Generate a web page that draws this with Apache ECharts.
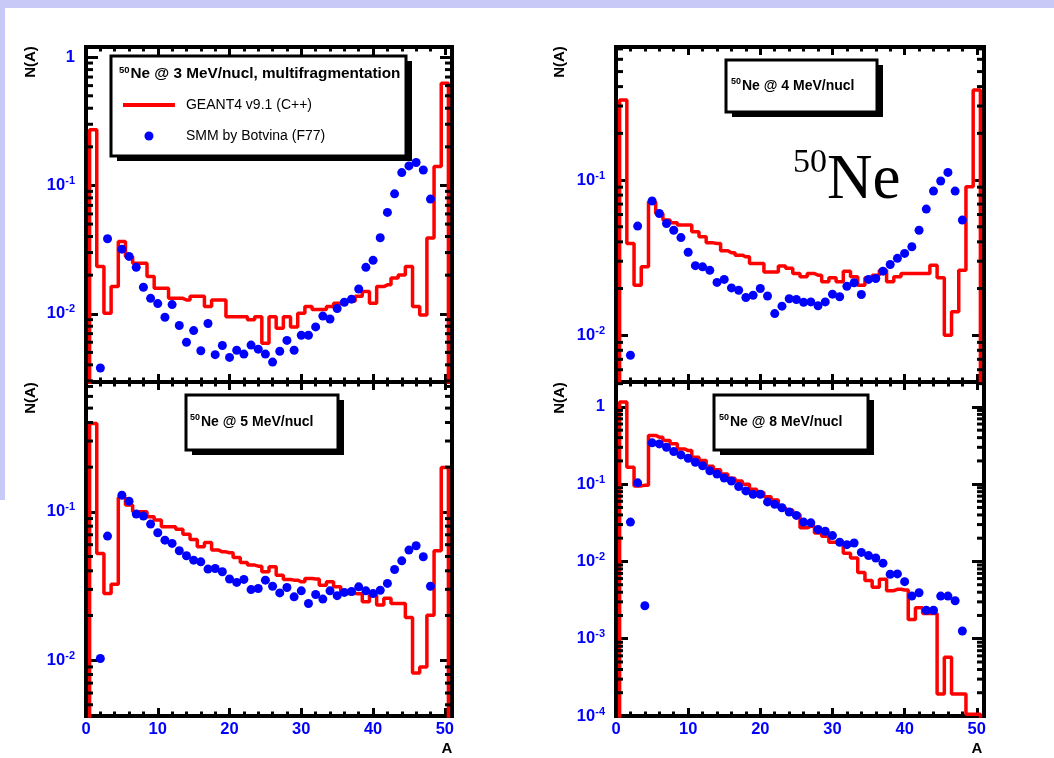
<!DOCTYPE html>
<html>
<head>
<meta charset="utf-8">
<title>50Ne fragment mass distributions</title>
<script src="https://cdn.jsdelivr.net/npm/echarts@6.0.0/dist/echarts.min.js"></script>
<style>
html,body{margin:0;padding:0;background:#ffffff;}
#chart{width:1054px;height:758px;}
</style>
</head>
<body>
<div id="chart"></div>
<script>
// ---------------- data ----------------
const massNumber = [0,1,2,3,4,5,6,7,8,9,10,11,12,13,14,15,16,17,18,19,20,21,22,23,24,25,26,27,28,29,30,31,32,33,34,35,36,37,38,39,40,41,42,43,44,45,46,47,48,49,50];

// GEANT4 v9.1 (C++) histograms, N(A) per unit bin (0 = empty bin)
const geant_3MeV = [0, 0.272, 0.0234, 0.0101, 0.0163, 0.0366, 0.0280, 0.0248, 0.0248, 0.0195, 0.0158,
  0.0158, 0.0132, 0.0132, 0.0128, 0.0137, 0.0137, 0.0114, 0.0128, 0.0128, 0.0095,
  0.0095, 0.0095, 0.0090, 0.0095, 0.0059, 0.0095, 0.0077, 0.0095, 0.0079, 0.0101,
  0.0114, 0.0108, 0.0108, 0.0114, 0.0121, 0.0125, 0.0125, 0.0137, 0.0149, 0.0121,
  0.0163, 0.0168, 0.0190, 0.0201, 0.0234, 0.0114, 0.0098, 0.0389, 0.1406, 0.626];
const geant_4MeV = [0, 0.328, 0.039, 0.021, 0.0276, 0.0725, 0.0609, 0.0552, 0.0531, 0.0513, 0.0513,
  0.0465, 0.0431, 0.0394, 0.039, 0.035, 0.034, 0.0328, 0.032, 0.029, 0.029,
  0.0256, 0.0256, 0.0279, 0.027, 0.025, 0.0238, 0.025, 0.0244, 0.0221, 0.0235,
  0.0221, 0.0259, 0.0238, 0.021, 0.0235, 0.0244, 0.0262, 0.0221, 0.0238, 0.025,
  0.025, 0.025, 0.025, 0.0283, 0.0235, 0.01, 0.0142, 0.0262, 0.0906, 0.381];
const geant_5MeV = [0, 0.394, 0.0523, 0.0281, 0.0325, 0.125, 0.111, 0.1, 0.1, 0.0925, 0.0879,
  0.0792, 0.0792, 0.0764, 0.0707, 0.0651, 0.0581, 0.0621, 0.0552, 0.0537, 0.0529,
  0.0492, 0.0455, 0.0437, 0.043, 0.0394, 0.0426, 0.0374, 0.035, 0.0346, 0.0337,
  0.0355, 0.0352, 0.032, 0.0337, 0.0312, 0.0281, 0.0281, 0.028, 0.0247, 0.0274,
  0.0235, 0.0261, 0.0241, 0.0241, 0.0194, 0.0082, 0.009, 0.0201, 0.0546, 0.199];
const geant_8MeV = [0, 1.16, 0.165, 0.095, 0.097, 0.427, 0.406, 0.367, 0.333, 0.286, 0.272,
  0.223, 0.202, 0.170, 0.154, 0.135, 0.119, 0.110, 0.100, 0.0861, 0.0779,
  0.069, 0.0625, 0.0496, 0.0463, 0.0406, 0.0272, 0.0286, 0.0234, 0.0212, 0.0177,
  0.0177, 0.0128, 0.0111, 0.00719, 0.00565, 0.00462, 0.00589, 0.00419, 0.00436, 0.00427,
  0.00177, 0.00251, 0.00212, 0.00212, 0.000192, 0.000577, 0.000192, 0.000192, 0.000105, 0.000105];

// SMM by Botvina (F77) points (null = no point)
const smm_3MeV = [null, null, 0.00378, 0.0384, null, 0.0319, 0.028, 0.023, 0.0161, 0.0132, 0.012,
  0.0094, 0.0118, 0.0081, 0.006, 0.0074, 0.00515, 0.0084, 0.0048, 0.00566, 0.00457,
  0.0052, 0.00485, 0.0057, 0.0053, 0.00485, 0.0042, 0.0051, 0.0062, 0.0052, 0.0068,
  0.0068, 0.0079, 0.0096, 0.0091, 0.011, 0.0123, 0.013, 0.0156, 0.023, 0.0261,
  0.0391, 0.0617, 0.0861, 0.126, 0.142, 0.151, 0.132, 0.0783, null, null];
const smm_4MeV = [null, null, 0.00743, 0.0505, null, 0.0733, 0.0609, 0.0525, 0.0475, 0.0426, 0.0343,
  0.0281, 0.0276, 0.0262, 0.0219, 0.0229, 0.0202, 0.0195, 0.0175, 0.0181, 0.0200,
  0.0179, 0.0138, 0.0154, 0.0172, 0.0170, 0.0163, 0.0164, 0.0155, 0.0164, 0.0184,
  0.0177, 0.0207, 0.0218, 0.0183, 0.0229, 0.0232, 0.0259, 0.0286, 0.0313, 0.0337,
  0.0372, 0.0475, 0.065, 0.0849, 0.0986, 0.112, 0.0849, 0.0552, null, null];
const smm_5MeV = [null, null, 0.01025, 0.0686, null, 0.1295, 0.118, 0.0965, 0.0935, 0.0826, 0.0722,
  0.0644, 0.0612, 0.0546, 0.0505, 0.0472, 0.046, 0.0411, 0.0415, 0.0394, 0.0352,
  0.0334, 0.035, 0.0299, 0.0304, 0.0346, 0.0315, 0.0284, 0.0309, 0.0267, 0.0293,
  0.0241, 0.0277, 0.0258, 0.0293, 0.0272, 0.0286, 0.029, 0.0312, 0.0293, 0.0281,
  0.0296, 0.0329, 0.0408, 0.0467, 0.0552, 0.059, 0.0498, 0.0315, null, null];
const smm_8MeV = [null, null, 0.0323, 0.104, 0.00267, 0.343, 0.332, 0.301, 0.264, 0.239, 0.216,
  0.192, 0.173, 0.149, 0.135, 0.12, 0.11, 0.0932, 0.0819, 0.0741, 0.0741,
  0.0589, 0.0548, 0.0496, 0.0436, 0.0394, 0.0323, 0.0316, 0.0259, 0.0246, 0.0216,
  0.0177, 0.0165, 0.0173, 0.0131, 0.0119, 0.0111, 0.0095, 0.00684, 0.0069, 0.00548,
  0.00356, 0.00394, 0.00234, 0.00234, 0.00356, 0.00356, 0.0031, 0.00126, null, null];

// tick labels
const xTickLabels = [0, 10, 20, 30, 40, 50];
const yDecades_3MeV = [0.01, 0.1, 1];
const yDecades_4MeV = [0.01, 0.1];
const yDecades_5MeV = [0.01, 0.1];
const yDecades_8MeV = [0.0001, 0.001, 0.01, 0.1, 1];

// texts
const seriesNames = ['GEANT4 v9.1 (C++)', 'SMM by Botvina (F77)'];
const panelTitles = ['Ne @ 3 MeV/nucl, multifragmentation', 'Ne @ 4 MeV/nucl', 'Ne @ 5 MeV/nucl', 'Ne @ 8 MeV/nucl'];

// ---------------- styling / layout ----------------
const FONT = '"Liberation Sans", Arial, Helvetica, sans-serif';
const SERIF = '"Liberation Serif", "Times New Roman", serif';
const LABEL_BLUE = '#0000ff';
const RED = '#ff0000';
const DOT_BLUE = '#0000ff';
const SLIDE = '#c9c9f7';
const EMPTY = 1e-8;

const panels = [
  {grid:{left:86, top:47, width:366, height:335}, yMin:0.00294, yMax:1.2, red:geant_3MeV, blue:smm_3MeV, decades:yDecades_3MeV, showX:false},
  {grid:{left:616, top:47, width:368, height:335}, yMin:0.005, yMax:0.72, red:geant_4MeV, blue:smm_4MeV, decades:yDecades_4MeV, showX:false},
  {grid:{left:86, top:382, width:366, height:334}, yMin:0.0042, yMax:0.75, red:geant_5MeV, blue:smm_5MeV, decades:yDecades_5MeV, showX:true},
  {grid:{left:616, top:382, width:368, height:334}, yMin:0.0001, yMax:2.1, red:geant_8MeV, blue:smm_8MeV, decades:yDecades_8MeV, showX:true}
];

function logLabel(v, decades) {
  const e = Math.log10(v);
  for (const d of decades) {
    const de = Math.round(Math.log10(d));
    if (Math.abs(e - de) < 1e-6) {
      return de === 0 ? '{b|1}' : '{b|10}{s|-' + Math.abs(de) + '}';
    }
  }
  return '';
}

function minorLogValues(min, max) {
  const out = [];
  for (let e = Math.floor(Math.log10(min)); e <= Math.ceil(Math.log10(max)); e++) {
    for (let k = 2; k <= 9; k++) {
      const v = k * Math.pow(10, e);
      if (v > min && v < max) out.push([0, v]);
    }
  }
  return out;
}

function minorTickItem(params, api) {
  const y = api.coord([0, api.value(1)])[1];
  const cs = params.coordSys;
  const st = {stroke:'#000', lineWidth:3};
  return {type:'group', children:[
    {type:'line', shape:{x1:cs.x, y1:y, x2:cs.x + 7, y2:y}, style:st},
    {type:'line', shape:{x1:cs.x + cs.width, y1:y, x2:cs.x + cs.width - 7, y2:y}, style:st}
  ]};
}

const grids = [], xAxes = [], yAxes = [], series = [];
panels.forEach((p, i) => {
  grids.push(Object.assign({}, p.grid, {show:true, borderColor:'#000', borderWidth:4, backgroundColor:'rgba(0,0,0,0)'}));
  const xBase = {gridIndex:i, type:'value', min:0, max:51, axisLine:{show:false, onZero:false}, splitLine:{show:false}};
  const majorTick = {inside:true, length:8, lineStyle:{color:'#000', width:3}};
  const minorTickX = {inside:true, length:4.5, lineStyle:{color:'#000', width:3}};
  const xi = xAxes.length;
  xAxes.push(Object.assign({}, xBase, {position:'bottom', interval:10, axisTick:majorTick,
    axisLabel:{show:p.showX, margin:5, color:LABEL_BLUE, fontSize:16.5, fontWeight:'bold', fontFamily:FONT,
      formatter: v => xTickLabels.indexOf(v) >= 0 ? String(v) : ''}}));
  xAxes.push(Object.assign({}, xBase, {position:'bottom', interval:2, axisTick:minorTickX, axisLabel:{show:false}}));
  xAxes.push(Object.assign({}, xBase, {position:'top', interval:10, axisTick:majorTick, axisLabel:{show:false}}));
  xAxes.push(Object.assign({}, xBase, {position:'top', interval:2, axisTick:minorTickX, axisLabel:{show:false}}));

  const yi = yAxes.length;
  const yBase = {gridIndex:i, type:'log', logBase:10, min:p.yMin, max:p.yMax,
    axisLine:{show:false, onZero:false}, splitLine:{show:false},
    axisTick:{inside:true, length:12, lineStyle:{color:'#000', width:3}}};
  yAxes.push(Object.assign({}, yBase, {position:'left',
    axisLabel:{margin:11, color:LABEL_BLUE, fontFamily:FONT, fontWeight:'bold',
      formatter: v => logLabel(v, p.decades),
      rich:{
        b:{fontSize:16.5, fontWeight:'bold', color:LABEL_BLUE, fontFamily:FONT},
        s:{fontSize:11, fontWeight:'bold', color:LABEL_BLUE, fontFamily:FONT, padding:[0,0,9,0]}
      }}}));
  yAxes.push(Object.assign({}, yBase, {position:'right', axisLabel:{show:false}}));

  const stepData = massNumber.map((a, k) => [a, p.red[k] > 0 ? p.red[k] : EMPTY]);
  stepData.push([51, EMPTY]);
  series.push({type:'line', name:seriesNames[0], xAxisIndex:xi, yAxisIndex:yi, step:'middle',
    symbol:'none', showSymbol:false, itemStyle:{color:RED}, lineStyle:{color:RED, width:3.5, opacity:1},
    data:stepData, clip:true, z:3, silent:true});
  series.push({type:'scatter', name:seriesNames[1], xAxisIndex:xi, yAxisIndex:yi, symbol:'circle', symbolSize:9,
    itemStyle:{color:DOT_BLUE, opacity:1}, data:massNumber.map((a, k) => [a, p.blue[k]]).filter(d => d[1] != null),
    z:4, silent:true});
  series.push({type:'custom', xAxisIndex:xi, yAxisIndex:yi, data:minorLogValues(p.yMin, p.yMax),
    renderItem:minorTickItem, z:5, silent:true});
});

// ---------------- annotations ----------------
const boxes = [
  {x:111, y:56, w:295, h:100, tx:119, ty:74, size:15.3, sup:9.5},
  {x:726, y:60, w:151, h:52, tx:731, ty:86, size:14, sup:9},
  {x:186, y:395, w:152, h:55, tx:190, ty:422, size:14, sup:9},
  {x:714, y:395, w:154, h:55, tx:719, ty:422, size:14, sup:9}
];
const graphics = [
  {type:'rect', shape:{x:0, y:0, width:1054, height:8}, style:{fill:SLIDE}, z:100, silent:true},
  {type:'rect', shape:{x:0, y:0, width:5, height:500}, style:{fill:SLIDE}, z:100, silent:true}
];
boxes.forEach((b, i) => {
  graphics.push({type:'rect', shape:{x:b.x + 6, y:b.y + 5, width:b.w, height:b.h}, style:{fill:'#000'}, z:100, silent:true});
  graphics.push({type:'rect', shape:{x:b.x, y:b.y, width:b.w, height:b.h}, style:{fill:'#fff', stroke:'#000', lineWidth:3}, z:101, silent:true});
  graphics.push({type:'text', x:b.tx, y:b.ty, z:102, silent:true, style:{
    text:'{s|50}{t|' + panelTitles[i] + '}', align:'left', verticalAlign:'middle',
    rich:{
      s:{fontSize:b.sup, fontWeight:'bold', fontFamily:FONT, fill:'#000', padding:[0,1,8,0]},
      t:{fontSize:b.size, fontWeight:'bold', fontFamily:FONT, fill:'#000'}
    }}});
});
[[31, 62], [560, 62], [31, 398], [560, 398]].forEach(pt => {
  graphics.push({type:'text', x:pt[0], y:pt[1], rotation:Math.PI / 2, z:102, silent:true,
    style:{text:'N(A)', fontSize:15, fontWeight:'bold', fontFamily:FONT, fill:'#000', align:'center', verticalAlign:'middle'}});
});
[[447, 749], [977, 749]].forEach(pt => {
  graphics.push({type:'text', x:pt[0], y:pt[1], z:102, silent:true,
    style:{text:'A', fontSize:15, fontWeight:'bold', fontFamily:FONT, fill:'#000', align:'center', verticalAlign:'middle'}});
});
graphics.push({type:'text', x:793, y:163, z:102, silent:true,
  style:{text:'50', fontSize:34, fontFamily:SERIF, fill:'#000', align:'left', verticalAlign:'middle'}});
graphics.push({type:'text', x:827, y:181, z:102, silent:true,
  style:{text:'Ne', fontSize:63, fontFamily:SERIF, fill:'#000', align:'left', verticalAlign:'middle'}});

const option = {
  animation:false,
  backgroundColor:'#ffffff',
  textStyle:{fontFamily:FONT},
  grid:grids,
  xAxis:xAxes,
  yAxis:yAxes,
  legend:{
    left:123, top:98, orient:'vertical', padding:0, itemWidth:52, itemHeight:9, itemGap:17,
    selectedMode:false, z:200,
    itemStyle:{borderWidth:0, opacity:1},
    textStyle:{fontFamily:FONT, fontSize:14, color:'#000', padding:[0,0,0,6]},
    data:[
      {name:seriesNames[0], icon:'path://M0,0L0,0.01M0,9L0,9.01M0,2.5L52,2.5L52,6.5L0,6.5Z'},
      {name:seriesNames[1], icon:'circle'}
    ]
  },
  graphic:{elements:graphics},
  series:series
};

const chart = echarts.init(document.getElementById('chart'), null, {renderer:'canvas'});
chart.setOption(option);
</script>
</body>
</html>
